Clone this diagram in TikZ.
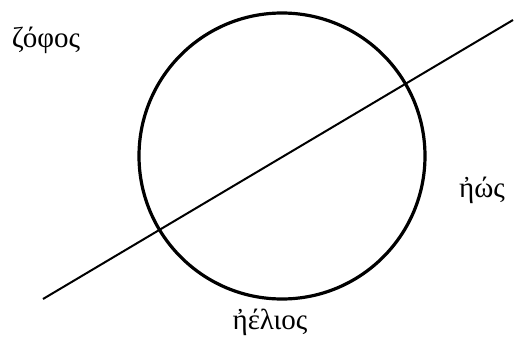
\documentclass[tikz,border=0pt]{standalone}
\usepackage{fontspec}
\setmainfont{Liberation Serif}
\usepackage{tikz}
\usetikzlibrary{positioning}
\tikzset{
  rim/.style={draw=black, line width=3.2pt},
  ray/.style={draw=black, line width=2pt},
  lbl/.style={font=\fontsize{29}{34}\selectfont, inner sep=0pt},
  px/.style={x=1pt, y=-1pt}
}
\begin{document}
\begin{tikzpicture}[px]
  \useasboundingbox (0,0) rectangle (515,338);
  \coordinate (c) at (282,156);
  \draw[rim] (c) circle (143);
  \coordinate (a) at (43,299);
  \coordinate (b) at (513,20);
  \draw[ray] (a)--(b);
  \node[lbl] (zophos) at (46,40) {ζόφος};
  \node[lbl] (eos) at (482,190) {ἠώς};
  \node[lbl] (helios) at (270,322) {ἠέλιος};
\end{tikzpicture}
\end{document}
